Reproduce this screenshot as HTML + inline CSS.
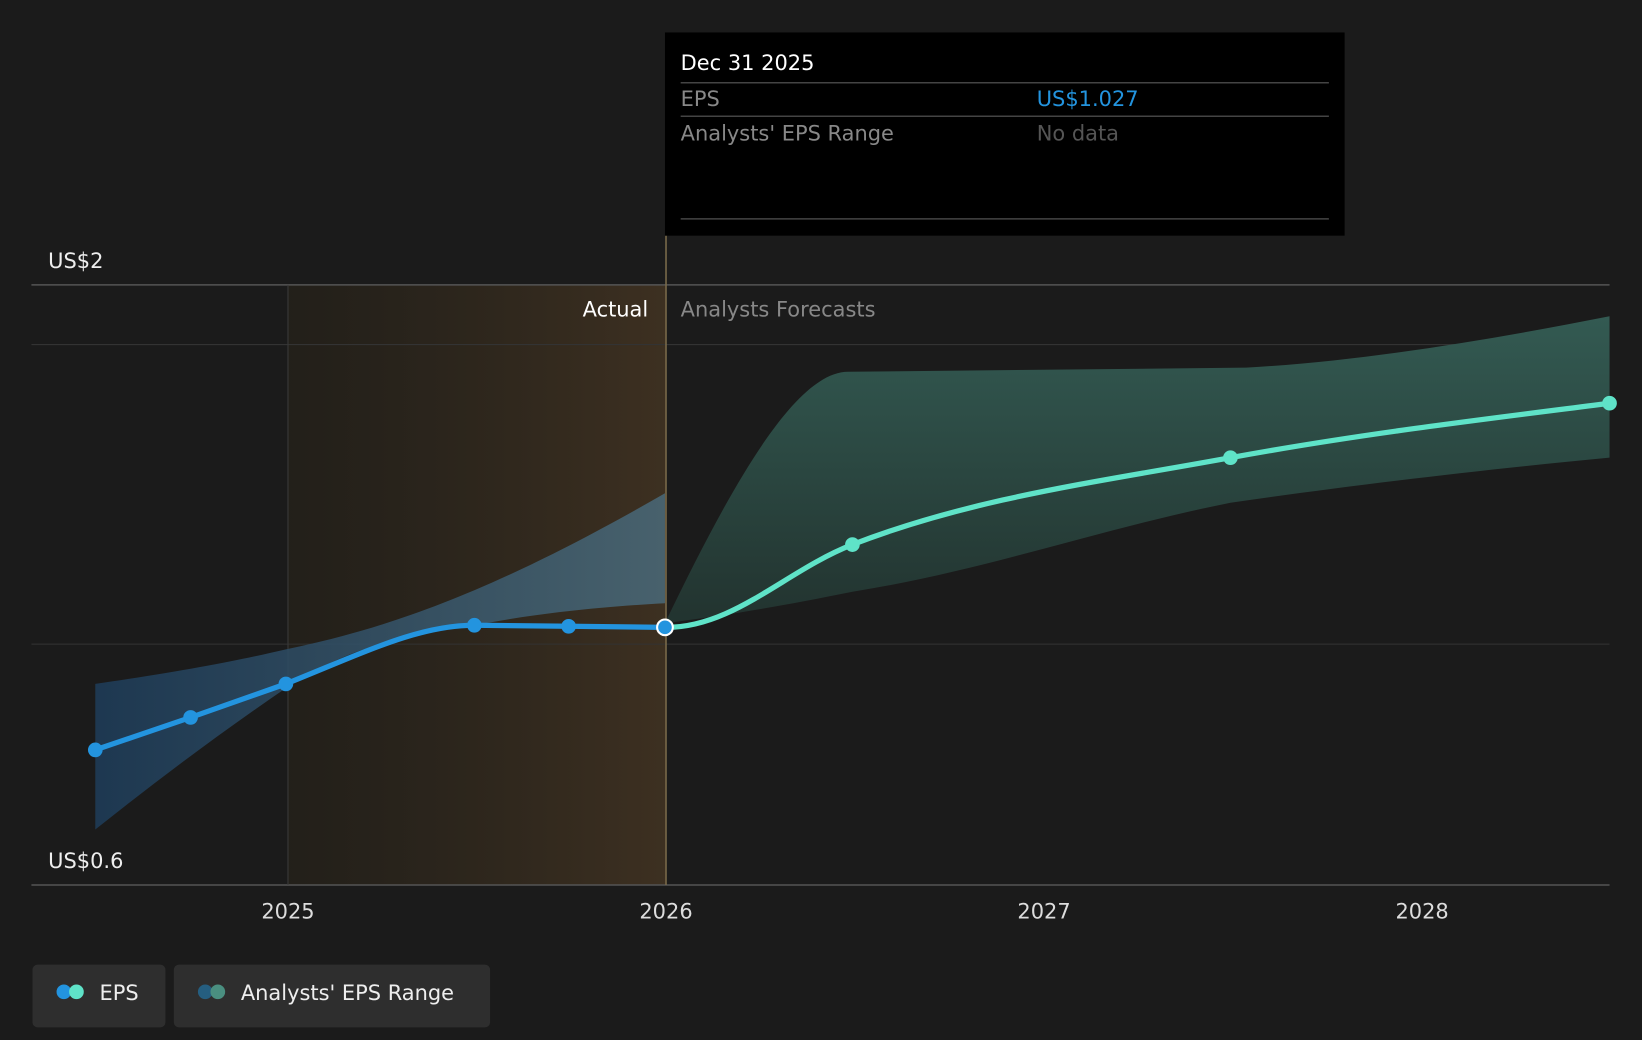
<!DOCTYPE html>
<html><head><meta charset="utf-8"><style>
html,body{margin:0;padding:0;background:#1b1b1b;}
svg{display:block;font-family:"DejaVu Sans","Liberation Sans",sans-serif;}
</style></head><body>
<svg width="1642" height="1040" viewBox="0 0 1568 993" preserveAspectRatio="none">
<defs>
<linearGradient id="act" x1="0" x2="1" y1="0" y2="0">
<stop offset="0" stop-color="#2a2419" stop-opacity="0.5"/>
<stop offset="1" stop-color="#3d3021"/>
</linearGradient>
<linearGradient id="pastR" x1="0" x2="1" y1="0" y2="0">
<stop offset="0" stop-color="#1e3d5a"/>
<stop offset="1" stop-color="#4a6a7a"/>
</linearGradient>
<linearGradient id="futR" x1="0" x2="0" y1="0" y2="1">
<stop offset="0" stop-color="#335a52"/>
<stop offset="1" stop-color="#22332f"/>
</linearGradient>
</defs>
<rect width="1568" height="993" fill="#1b1b1b"/>
<rect x="275" y="272" width="361" height="573" fill="url(#act)"/>
<line x1="30" x2="1537" y1="272" y2="272" stroke="#555" stroke-width="1.5"/>
<line x1="30" x2="1537" y1="329" y2="329" stroke="#333" stroke-width="1"/>
<line x1="30" x2="1537" y1="615" y2="615" stroke="#333" stroke-width="1"/>
<line x1="30" x2="1537" y1="845" y2="845" stroke="#555" stroke-width="1.5"/>
<line x1="275" x2="275" y1="272" y2="845" stroke="#3a3a3a"/>
<!-- past range -->
<path d="M91,653 C180,640 230,630 273,620 C380,598 480,560 635,471 L635,576 C560,580 500,588 453,597 C380,605 320,625 273,657 C210,700 150,745 91,792 Z" fill="url(#pastR)" opacity="0.85"/>
<!-- future range -->
<path d="M635,595 C700,460 760,355 810,355 L1190,351 C1300,345 1420,325 1537,302 L1537,437 C1400,450 1280,465 1175,480 C1050,505 940,545 814,565 C740,580 690,588 635,595 Z" fill="url(#futR)"/>
<line x1="636" x2="636" y1="225" y2="845" stroke="#7a6a4a" stroke-width="1.5"/>
<!-- EPS line -->
<path d="M91,716 L182,685 L273,653 C350,622 400,597 453,597 L543,598 L635,599" fill="none" stroke="#2394df" stroke-width="5"/>
<path d="M635,599 C700,600 750,545 814,520 C930,475 1050,460 1175,437 C1300,414 1420,400 1537,385" fill="none" stroke="#5fe3c8" stroke-width="5"/>
<g fill="#2394df">
<circle cx="91" cy="716" r="7"/><circle cx="182" cy="685" r="7"/><circle cx="273" cy="653" r="7"/>
<circle cx="453" cy="597" r="7"/><circle cx="543" cy="598" r="7"/>
</g>
<circle cx="635" cy="599" r="7.5" fill="#2394df" stroke="#fff" stroke-width="2"/>
<g fill="#5fe3c8"><circle cx="814" cy="520" r="7"/><circle cx="1175" cy="437" r="7"/><circle cx="1537" cy="385" r="7"/></g>
<!-- labels -->
<text x="46" y="256" fill="#eee" font-size="20">US$2</text>
<text x="46" y="829" fill="#eee" font-size="20">US$0.6</text>
<text x="619" y="302" fill="#fff" font-size="20" text-anchor="end">Actual</text>
<text x="650" y="302" fill="#888" font-size="20">Analysts Forecasts</text>
<g fill="#ddd" font-size="20" text-anchor="middle">
<text x="275" y="877">2025</text><text x="636" y="877">2026</text>
<text x="997" y="877">2027</text><text x="1358" y="877">2028</text>
</g>
<!-- tooltip -->
<rect x="635" y="31" width="649" height="194" fill="#000"/>
<text x="650" y="67" fill="#fff" font-size="20">Dec 31 2025</text>
<line x1="650" x2="1269" y1="79" y2="79" stroke="#444" stroke-width="1.5"/>
<text x="650" y="101" fill="#888" font-size="20">EPS</text>
<text x="990" y="101" fill="#2394df" font-size="20">US$1.027</text>
<line x1="650" x2="1269" y1="111" y2="111" stroke="#444" stroke-width="1.5"/>
<text x="650" y="134" fill="#888" font-size="20">Analysts' EPS Range</text>
<text x="990" y="134" fill="#555" font-size="20">No data</text>
<line x1="650" x2="1269" y1="209" y2="209" stroke="#444" stroke-width="1.5"/>
<!-- legend -->
<rect x="31" y="921" width="127" height="60" rx="5" fill="#2e2e2e"/>
<circle cx="61" cy="947" r="7" fill="#2394df"/><circle cx="73" cy="947" r="7" fill="#5fe3c8"/>
<text x="95" y="955" fill="#eee" font-size="20">EPS</text>
<rect x="166" y="921" width="302" height="60" rx="5" fill="#2e2e2e"/>
<circle cx="196" cy="947" r="7" fill="#255e80"/><circle cx="208" cy="947" r="7" fill="#4a8f80"/>
<text x="230" y="955" fill="#eee" font-size="20">Analysts' EPS Range</text>
</svg>
</body></html>
